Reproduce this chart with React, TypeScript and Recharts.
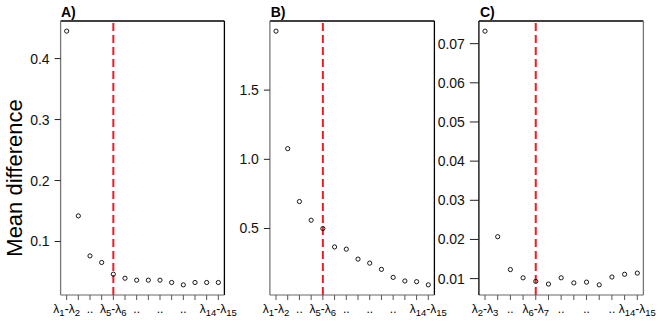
import React from "react";
import {
  ScatterChart,
  Scatter,
  XAxis,
  YAxis,
  ReferenceLine,
} from "recharts";

// valores (painéis A, B, C)
const panelAValues = [0.445, 0.142, 0.0764, 0.0656, 0.0464, 0.0398, 0.0366, 0.0366, 0.0366, 0.0328, 0.0289, 0.0328, 0.0328, 0.0328];
const panelBValues = [1.926, 1.077, 0.695, 0.56, 0.5, 0.367, 0.351, 0.279, 0.25, 0.205, 0.147, 0.121, 0.116, 0.093];
const panelCValues = [0.0732, 0.0207, 0.0123, 0.0102, 0.0093, 0.0086, 0.0102, 0.0089, 0.0091, 0.0084, 0.0104, 0.0111, 0.0114];

// rótulos do eixo x: par de subscritos, ".." ou vazio
const tickLabelsAB: (string | [string, string])[] = [
  ["1", "2"], "", "..", "", ["5", "6"], "", "..", "", "..", "", "..", "", "", ["14", "15"],
];
const tickLabelsC: (string | [string, string])[] = [
  ["2", "3"], "", "..", "", ["6", "7"], "", "..", "", "..", "", "..", "", ["14", "15"],
];

const yTicksA = [0.1, 0.2, 0.3, 0.4];
const yTicksB = [0.5, 1.0, 1.5];
const yTicksC = [0.01, 0.02, 0.03, 0.04, 0.05, 0.06, 0.07];

const titles = ["A)", "B)", "C)"];
const yLabel = "Mean difference";

const W = 664;
const H = 323;
const TOP = 21;
const YW = 40;

const LambdaTick = ({ x, y, payload, labels }: any) => {
  const lab = labels[payload.value - 1];
  if (!lab) return null;
  const base = y + 10.5;
  if (typeof lab === "string") {
    return (
      <text x={x} y={base} textAnchor="middle" fontSize={12} fill="#000">
        {lab}
      </text>
    );
  }
  return (
    <text x={x} y={base} textAnchor="middle" fontSize={12} fill="#000">
      λ<tspan fontSize={9.5} dy={3}>{lab[0]}</tspan>
      <tspan dy={-3}>-λ</tspan>
      <tspan fontSize={9.5} dy={3}>{lab[1]}</tspan>
    </text>
  );
};

const OpenCircle = (props: any) => (
  <circle cx={props.cx} cy={props.cy} r={2.1} fill="none" stroke="#000" strokeWidth={0.9} />
);

function Panel({ values, labels, yTicks, yDomain, digits, left, width, refX, grayRight, yTickSize }: any) {
  const data = values.map((v: number, i: number) => ({ x: i + 1, y: v }));
  const n = values.length;
  const ext = (n - 1) * 0.04;
  const xDomain = [1 - ext, n + ext];
  const ticks = data.map((d: any) => d.x);
  const leftColor = grayRight ? "#000" : "#777";
  const rightColor = grayRight ? "#777" : "#000";
  return (
    <div style={{ position: "absolute", left: 0, top: 0 }}>
      <ScatterChart
        width={W}
        height={H}
        margin={{ top: TOP, right: W - left - width, bottom: 0, left: left - YW }}
      >
        <XAxis
          type="number"
          dataKey="x"
          domain={xDomain}
          allowDataOverflow
          ticks={ticks}
          interval={0}
          height={28}
          tickSize={5}
          tickMargin={2}
          axisLine={{ stroke: "#666" }}
          tickLine={{ stroke: "#555" }}
          tick={<LambdaTick labels={labels} />}
        />
        <YAxis
          type="number"
          dataKey="y"
          domain={yDomain}
          allowDataOverflow
          ticks={yTicks}
          interval={0}
          width={YW}
          tickSize={yTickSize}
          tickMargin={5}
          tickFormatter={(v: number) => v.toFixed(digits)}
          axisLine={{ stroke: leftColor, strokeWidth: 1.3 }}
          tickLine={{ stroke: "#222" }}
          tick={{ fontSize: 14, fill: "#111" }}
        />
        <ReferenceLine y={yDomain[1]} stroke="#000" strokeWidth={1.3} ifOverflow="visible" />
        <ReferenceLine x={xDomain[1]} stroke={rightColor} strokeWidth={1.3} ifOverflow="visible" />
        <ReferenceLine x={refX} stroke="#ee1c25" strokeWidth={2} strokeDasharray="8 4" />
        <Scatter data={data} dataKey="y" shape={<OpenCircle />} isAnimationActive={false} />
      </ScatterChart>
    </div>
  );
}

export default function App() {
  return (
    <div
      style={{
        position: "absolute",
        left: 0,
        top: 0,
        width: W,
        height: H,
        background: "#fff",
        fontFamily: "'Liberation Sans', Arial, sans-serif",
      }}
    >
      <Panel values={panelAValues} labels={tickLabelsAB} yTicks={yTicksA} yDomain={[0.0123, 0.4616]} digits={1} left={60.6} width={163.8} refX={5} yTickSize={6} />
      <Panel values={panelBValues} labels={tickLabelsAB} yTicks={yTicksB} yDomain={[0.0197, 1.9993]} digits={1} left={269.9} width={164.5} refX={5} yTickSize={6} />
      <Panel values={panelCValues} labels={tickLabelsC} yTicks={yTicksC} yDomain={[0.00581, 0.07579]} digits={2} left={478.9} width={164.5} refX={5} grayRight yTickSize={9} />
      <svg width={W} height={H} style={{ position: "absolute", left: 0, top: 0, pointerEvents: "none" }}>
        <text x={61} y={16.7} fontSize={14} fontWeight="bold">{titles[0]}</text>
        <text x={270.7} y={16.7} fontSize={14} fontWeight="bold">{titles[1]}</text>
        <text x={480} y={16.7} fontSize={14} fontWeight="bold">{titles[2]}</text>
        <text x={22} y={178} fontSize={22} textAnchor="middle" transform="rotate(-90 22 178)">{yLabel}</text>
      </svg>
    </div>
  );
}
